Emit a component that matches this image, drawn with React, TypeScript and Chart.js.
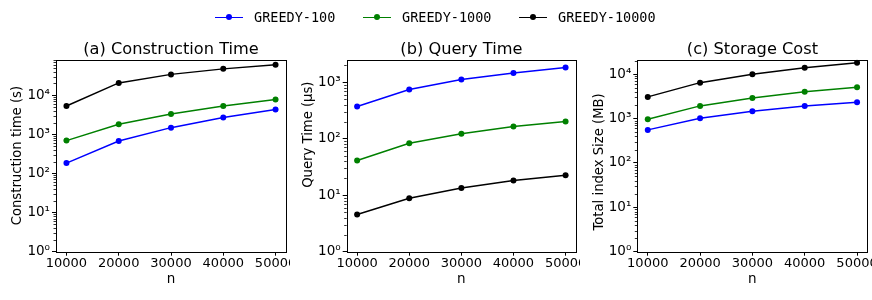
import React, { useEffect, useRef } from "react";
import { Chart, registerables } from "chart.js";
Chart.register(...registerables);

const nValues = [10000, 20000, 30000, 40000, 50000];
const xTicks = [10000, 20000, 30000, 40000, 50000];
const seriesNames = ["GREEDY-100", "GREEDY-1000", "GREEDY-10000"];
const seriesColors = ["#0000ff", "#008000", "#000000"];

const constructionG100 = [184, 675, 1480, 2700, 4300];
const constructionG1000 = [690, 1800, 3300, 5300, 7700];
const constructionG10000 = [5300, 20600, 34000, 47000, 60000];

const queryG100 = [372, 740, 1115, 1460, 1820];
const queryG1000 = [41, 83, 122, 165, 202];
const queryG10000 = [4.56, 8.85, 13.4, 18.2, 22.5];

const storageG100 = [556, 1020, 1465, 1930, 2340];
const storageG1000 = [970, 1930, 2920, 4000, 5100];
const storageG10000 = [3080, 6450, 10000, 14000, 18000];

const yTicksA = [1, 10, 100, 1000, 10000];
const yTicksB = [1, 10, 100, 1000];
const yTicksC = [1, 10, 100, 1000, 10000];

const SUP: Record<string, string> = { "0": "⁰", "1": "¹", "2": "²", "3": "³", "4": "⁴", "5": "⁵" };
const powLabel = (v: number) => "10" + String(Math.round(Math.log10(v))).split("").map((c) => SUP[c]).join("");

const FONT = "'DejaVu Sans', sans-serif";

const framePlugin = {
  id: "frame",
  afterDraw(chart: any) {
    const { ctx, chartArea: a } = chart;
    const ys = chart.scales.y;
    ctx.save();
    ctx.strokeStyle = "#000";
    ctx.lineWidth = 1;
    ctx.strokeRect(Math.round(a.left) + 0.5, Math.round(a.top) + 0.5, Math.round(a.right - a.left), Math.round(a.bottom - a.top));
    ctx.lineWidth = 0.8;
    const max = ys.max;
    for (let k = 0; k <= Math.floor(Math.log10(max)); k++) {
      for (let m = 2; m <= 9; m++) {
        const v = m * Math.pow(10, k);
        if (v > max) break;
        const y = Math.round(ys.getPixelForValue(v)) + 0.5;
        ctx.beginPath();
        ctx.moveTo(a.left - 2.5, y);
        ctx.lineTo(a.left, y);
        ctx.stroke();
      }
    }
    ctx.restore();
  },
};

type PanelProps = {
  left: number;
  width: number;
  title: string;
  yLabel: string;
  series: number[][];
  yMax: number;
  yTicks: number[];
  axisWidth: number;
  padRight: number;
  yTitlePad: number;
};

function Panel(p: PanelProps) {
  const ref = useRef<HTMLCanvasElement | null>(null);
  useEffect(() => {
    if (!ref.current) return;
    const tickFont = { family: FONT, size: 13 };
    const chart = new Chart(ref.current, {
      type: "line",
      data: {
        datasets: p.series.map((vals, i) => ({
          label: seriesNames[i],
          data: nValues.map((x, j) => ({ x, y: vals[j] })),
          borderColor: seriesColors[i],
          backgroundColor: seriesColors[i],
          pointBackgroundColor: seriesColors[i],
          pointBorderColor: seriesColors[i],
          pointBorderWidth: 0,
          pointRadius: 3,
          borderWidth: 1.5,
          tension: 0,
          order: 3 - i,
        })),
      },
      options: {
        responsive: false,
        animation: false,
        devicePixelRatio: 1,
        layout: { padding: { left: 0, right: p.padRight, top: 0, bottom: 0 } },
        plugins: {
          legend: { display: false },
          tooltip: { enabled: false },
          title: {
            display: true,
            fullSize: false,
            text: p.title,
            color: "#000",
            font: { family: FONT, size: 16.2, weight: "normal", lineHeight: 1.1 },
            padding: { top: 41.2, bottom: 0.5 },
          },
        },
        scales: {
          x: {
            type: "linear",
            min: 8000,
            max: 52000,
            afterBuildTicks: (s: any) => {
              s.ticks = xTicks.map((v) => ({ value: v }));
            },
            afterFit: (s: any) => {
              s.height = 48.3;
              s.paddingLeft = 0;
              s.paddingRight = 0;
            },
            grid: { display: true, drawOnChartArea: false, drawTicks: true, tickLength: 4, color: "#000", tickColor: "#000", lineWidth: 1 },
            border: { display: false },
            ticks: { color: "#000", font: tickFont, padding: 0, maxRotation: 0, autoSkip: false, callback: (v: any) => String(v) },
            title: { display: true, text: "n", color: "#000", font: { family: FONT, size: 13.5, lineHeight: 1.2 }, padding: { top: 0, bottom: 12 } },
          },
          y: {
            type: "logarithmic",
            min: 1,
            max: p.yMax,
            afterBuildTicks: (s: any) => {
              s.ticks = p.yTicks.map((v) => ({ value: v, major: true }));
            },
            afterFit: (s: any) => {
              s.width = p.axisWidth;
              s.paddingTop = 0;
              s.paddingBottom = 0;
            },
            grid: { display: true, drawOnChartArea: false, drawTicks: true, tickLength: 4, color: "#000", tickColor: "#000", lineWidth: 1 },
            border: { display: false },
            ticks: { color: "#000", font: { family: FONT, size: 13.5 }, padding: 2, autoSkip: false, callback: (v: any) => powLabel(Number(v)) },
            title: { display: true, text: p.yLabel, color: "#000", font: { family: FONT, size: 13.2, lineHeight: 1.2 }, padding: { top: p.yTitlePad, bottom: 0 } },
          },
        },
      },
      plugins: [framePlugin],
    } as any);
    return () => chart.destroy();
  }, []);
  return (
    <canvas
      ref={ref}
      width={p.width}
      height={300}
      style={{ position: "absolute", left: p.left, top: 0, width: p.width, height: 300, display: "block" }}
    />
  );
}

function Legend() {
  const items = [
    { lineLeft: 215, textLeft: 254 },
    { lineLeft: 363, textLeft: 402 },
    { lineLeft: 519, textLeft: 558 },
  ];
  return (
    <>
      {items.map((it, i) => (
        <React.Fragment key={i}>
          <div style={{ position: "absolute", left: it.lineLeft, top: 16.5, width: 28, height: 1.6, background: seriesColors[i] }} />
          <div style={{ position: "absolute", left: it.lineLeft + 11, top: 14.3, width: 6, height: 6, borderRadius: 3, background: seriesColors[i] }} />
          <div
            style={{
              position: "absolute",
              left: it.textLeft,
              top: 9,
              fontFamily: "'DejaVu Sans Mono', monospace",
              fontSize: 13.5,
              lineHeight: "17px",
              color: "#000",
              whiteSpace: "nowrap",
            }}
          >
            {seriesNames[i]}
          </div>
        </React.Fragment>
      ))}
    </>
  );
}

export default function App() {
  return (
    <div style={{ position: "fixed", left: 0, top: 0, width: 872, height: 300, background: "#fff", overflow: "hidden" }}>
      <Panel
        left={0}
        width={290}
        title="(a) Construction Time"
        yLabel="Construction time (s)"
        series={[constructionG100, constructionG1000, constructionG10000]}
        yMax={81500}
        yTicks={yTicksA}
        axisWidth={56}
        padRight={4}
        yTitlePad={9.6}
      />
      <Panel
        left={290}
        width={290}
        title="(b) Query Time"
        yLabel={"          Query Time (µs)"}
        series={[queryG100, queryG1000, queryG10000]}
        yMax={2520}
        yTicks={yTicksB}
        axisWidth={56.7}
        padRight={2.7}
        yTitlePad={10.4}
      />
      <Panel
        left={580}
        width={292}
        title="(c) Storage Cost"
        yLabel={"Total index Size (MB)   "}
        series={[storageG100, storageG1000, storageG10000]}
        yMax={21400}
        yTicks={yTicksC}
        axisWidth={57.3}
        padRight={4.5}
        yTitlePad={12}
      />
      <Legend />
    </div>
  );
}
